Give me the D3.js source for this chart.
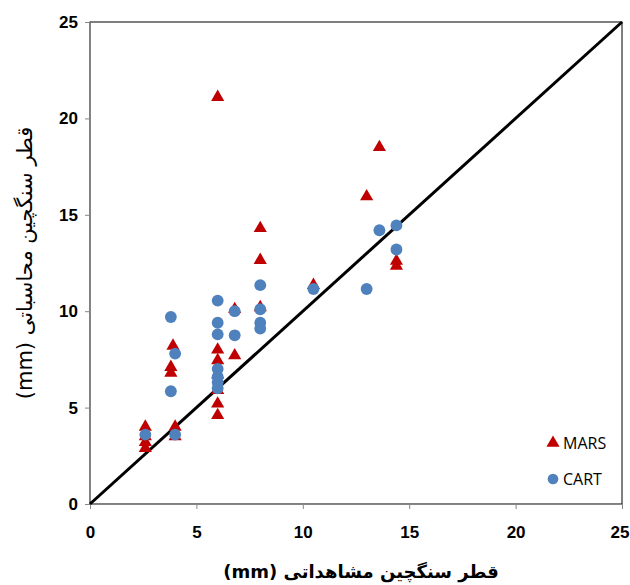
<!DOCTYPE html>
<html><head><meta charset="utf-8">
<script src="https://cdn.jsdelivr.net/npm/d3@7"></script>
<style>body{margin:0;background:#fff}svg{display:block}</style>
</head><body>
<script>
const marsX = [2.6,2.6,2.6,2.6, 3.8,3.8, 3.9, 4.0,4.0, 6.0,6.0,6.0,6.0,6.0,6.0,6.0, 6.8,6.8, 8.0,8.0,8.0, 10.5, 13.0, 13.6, 14.4,14.4];
const marsY = [4.0,3.5,3.2,2.9, 7.1,6.8, 8.2, 4.0,3.5, 21.1,8.0,7.45,6.7,5.9,5.2,4.6, 10.1,7.7, 14.3,12.65,10.2, 11.35, 15.95, 18.5, 12.6,12.35];
const cartX = [2.6, 3.8,3.8, 4.0,4.0, 6.0,6.0,6.0,6.0,6.0,6.0,6.0, 6.8,6.8, 8.0,8.0,8.0,8.0, 10.5, 13.0, 13.6, 14.4,14.4];
const cartY = [3.6, 9.7,5.85, 7.8,3.6, 10.55,9.4,8.8,7.0,6.6,6.3,6.0, 10.0,8.75, 11.35,10.1,9.4,9.1, 11.15, 11.15, 14.2, 14.45,13.2];
const ticks = [0,5,10,15,20,25];
const seriesNames = ["MARS","CART"];
const xTitle = "قطر سنگچین مشاهداتی (mm)";
const yTitle = "قطر سنگچین محاسباتی (mm)";

const W=630,H=585, m={l:90,r:8,t:22,b:81};
const svg=d3.select("body").append("svg").attr("width",W).attr("height",H);
const x=d3.scaleLinear().domain([0,25]).range([m.l,W-m.r]);
const y=d3.scaleLinear().domain([0,25]).range([H-m.b,m.t]);

svg.append("rect").attr("x",x(0)).attr("y",y(25)).attr("width",x(25)-x(0)).attr("height",y(0)-y(25))
  .attr("fill","none").attr("stroke","#000").attr("stroke-width",1);

const tickFont = "'Liberation Sans', Arial, sans-serif";
const xa=svg.append("g").attr("transform",`translate(0,${y(0)})`)
  .call(d3.axisBottom(x).tickValues(ticks).tickSize(5).tickPadding(17).tickSizeOuter(0));
const ya=svg.append("g").attr("transform",`translate(${x(0)},0)`)
  .call(d3.axisLeft(y).tickValues(ticks).tickSize(5).tickPadding(7).tickSizeOuter(0));
[xa,ya].forEach(a=>{
  a.select(".domain").attr("stroke","#868686");
  a.selectAll(".tick line").attr("stroke","#868686");
  a.selectAll("text").attr("font-family",tickFont).attr("font-weight",700).attr("font-size",17).attr("fill","#000");
});
// keep the last x label inside the picture
xa.selectAll(".tick text").filter(d=>d===25).attr("text-anchor","end").attr("dx",7);

// diagonal
svg.append("line").attr("x1",x(0)).attr("y1",y(0)).attr("x2",x(25)).attr("y2",y(25))
  .attr("stroke","#000").attr("stroke-width",3);

const tri=d3.symbol().type(d3.symbolTriangle).size(75);
const cir=d3.symbol().type(d3.symbolCircle).size(110);

svg.append("g").selectAll("path").data(marsX.map((v,i)=>[v,marsY[i]])).join("path")
  .attr("d",tri).attr("transform",d=>`translate(${x(d[0])},${y(d[1])})`).attr("fill","#C00000");
svg.append("g").selectAll("path").data(cartX.map((v,i)=>[v,cartY[i]])).join("path")
  .attr("d",cir).attr("transform",d=>`translate(${x(d[0])},${y(d[1])})`).attr("fill","#4F81BD");

// legend
const lg=svg.append("g");
lg.append("path").attr("d",tri).attr("transform","translate(553,443)").attr("fill","#C00000");
lg.append("path").attr("d",d3.symbol().type(d3.symbolCircle).size(90)).attr("transform","translate(553,479)").attr("fill","#4F81BD");
lg.selectAll("text").data(seriesNames).join("text").attr("x",563).attr("y",(d,i)=>449+i*36)
  .text(d=>d).attr("font-family","'Open Sans', sans-serif").attr("font-size",16).attr("fill","#000");

// titles
svg.append("text").attr("x",361).attr("y",578).attr("text-anchor","middle")
  .attr("direction","rtl").attr("font-family","'DejaVu Sans', sans-serif").attr("font-weight",700).attr("font-size",18)
  .text(xTitle);
svg.append("text").attr("transform",`translate(32,${(y(0)+y(25))/2}) rotate(-90)`).attr("text-anchor","middle")
  .attr("direction","rtl").attr("font-family","'DejaVu Sans', sans-serif").attr("font-size",21)
  .text(yTitle);
</script>
</body></html>
